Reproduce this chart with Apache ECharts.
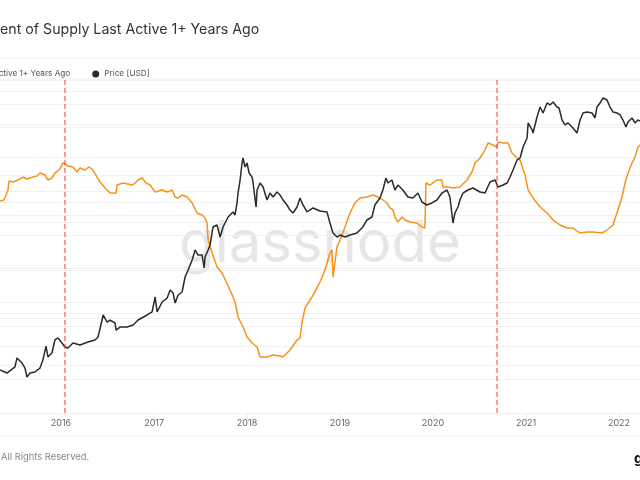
<!DOCTYPE html>
<html>
<head>
<meta charset="utf-8">
<script src="https://cdn.jsdelivr.net/npm/echarts@6/dist/echarts.min.js"></script>
<style>html,body{margin:0;padding:0;background:#fff;}#c{width:640px;height:480px;}</style>
</head>
<body>
<div id="c"></div>
<script>
// ---- data (x as decimal years) ----
const pctYears = [2015.344,2015.387,2015.409,2015.430,2015.441,2015.484,2015.538,2015.591,2015.634,2015.699,2015.742,2015.774,2015.828,2015.860,2015.903,2015.935,2015.989,2016.022,2016.043,2016.075,2016.129,2016.172,2016.204,2016.258,2016.301,2016.344,2016.387,2016.419,2016.473,2016.527,2016.591,2016.602,2016.667,2016.763,2016.796,2016.828,2016.871,2016.914,2016.957,2017.011,2017.086,2017.140,2017.194,2017.226,2017.258,2017.301,2017.355,2017.409,2017.462,2017.516,2017.548,2017.570,2017.581,2017.624,2017.677,2017.731,2017.817,2017.871,2017.903,2017.957,2018.000,2018.054,2018.108,2018.140,2018.215,2018.280,2018.355,2018.387,2018.462,2018.538,2018.570,2018.591,2018.624,2018.699,2018.753,2018.785,2018.839,2018.892,2018.914,2018.925,2018.946,2018.968,2019.000,2019.054,2019.108,2019.161,2019.215,2019.290,2019.355,2019.409,2019.462,2019.505,2019.538,2019.570,2019.591,2019.624,2019.667,2019.699,2019.753,2019.828,2019.882,2019.914,2019.925,2019.968,2020.043,2020.097,2020.108,2020.161,2020.215,2020.290,2020.366,2020.419,2020.452,2020.505,2020.559,2020.591,2020.645,2020.688,2020.699,2020.753,2020.806,2020.849,2020.903,2020.935,2020.989,2021.022,2021.075,2021.151,2021.226,2021.290,2021.366,2021.441,2021.505,2021.581,2021.656,2021.720,2021.817,2021.871,2021.935,2021.989,2022.032,2022.065,2022.097,2022.140,2022.172,2022.204,2022.226];
const pctValues = [57.28,57.39,57.91,58.44,59.38,59.28,59.49,59.80,59.59,59.80,59.91,60.22,60.02,59.49,59.70,60.22,60.65,61.28,61.38,60.96,60.86,60.33,60.75,60.54,60.86,60.54,59.80,59.28,58.65,58.12,58.12,58.96,59.17,58.96,59.17,59.49,59.70,59.17,58.96,58.23,58.44,58.23,58.44,57.70,57.60,57.91,57.70,57.07,56.02,55.81,55.50,54.97,53.18,51.82,50.34,49.71,47.93,46.67,45.09,44.04,42.99,42.36,41.94,40.89,40.89,41.10,40.99,40.89,41.62,42.67,42.88,44.46,46.04,47.19,48.14,48.77,50.03,51.82,52.13,49.29,50.87,52.45,53.18,54.55,56.02,57.07,57.60,57.70,57.91,57.70,57.39,57.07,56.55,56.34,55.60,55.07,55.60,55.28,55.07,54.97,54.55,54.44,59.17,58.96,59.49,59.49,58.75,58.75,58.65,58.75,59.49,60.33,61.28,61.80,62.64,63.38,63.17,62.96,63.48,63.38,63.38,62.33,61.80,61.59,60.02,58.44,57.60,56.65,56.02,55.28,54.76,54.44,54.44,53.92,54.02,54.02,53.92,54.23,54.76,56.34,57.70,59.17,60.22,61.28,61.91,62.96,63.17];
const priceYears = [2015.344,2015.419,2015.505,2015.527,2015.581,2015.613,2015.634,2015.667,2015.720,2015.774,2015.806,2015.839,2015.860,2015.903,2015.935,2015.968,2016.011,2016.043,2016.075,2016.129,2016.204,2016.290,2016.366,2016.398,2016.441,2016.452,2016.495,2016.527,2016.581,2016.591,2016.634,2016.710,2016.774,2016.828,2016.925,2016.978,2017.011,2017.032,2017.086,2017.140,2017.172,2017.204,2017.226,2017.258,2017.301,2017.333,2017.366,2017.409,2017.441,2017.473,2017.516,2017.538,2017.548,2017.581,2017.602,2017.634,2017.677,2017.710,2017.742,2017.796,2017.849,2017.871,2017.892,2017.903,2017.925,2017.946,2017.957,2017.978,2018.000,2018.022,2018.054,2018.065,2018.097,2018.108,2018.140,2018.172,2018.215,2018.247,2018.280,2018.323,2018.355,2018.387,2018.430,2018.462,2018.495,2018.538,2018.570,2018.602,2018.645,2018.710,2018.785,2018.860,2018.892,2018.925,2018.968,2019.000,2019.054,2019.108,2019.183,2019.247,2019.290,2019.344,2019.376,2019.430,2019.462,2019.495,2019.516,2019.559,2019.591,2019.624,2019.677,2019.731,2019.785,2019.839,2019.882,2019.935,2019.989,2020.043,2020.097,2020.151,2020.183,2020.215,2020.237,2020.269,2020.290,2020.323,2020.376,2020.430,2020.505,2020.559,2020.613,2020.667,2020.699,2020.753,2020.796,2020.828,2020.860,2020.903,2020.935,2020.968,2021.011,2021.022,2021.065,2021.075,2021.118,2021.151,2021.183,2021.226,2021.258,2021.290,2021.333,2021.355,2021.387,2021.419,2021.452,2021.505,2021.548,2021.581,2021.613,2021.656,2021.710,2021.742,2021.763,2021.796,2021.828,2021.871,2021.903,2021.935,2021.978,2022.011,2022.043,2022.075,2022.097,2022.140,2022.172,2022.204,2022.226];
const priceValues = [244,229,260,313,282,254,211,229,234,254,300,401,320,347,455,474,427,393,385,427,410,436,455,484,688,764,660,688,647,559,595,595,621,688,764,813,1109,813,1000,1087,1283,1205,979,1156,1231,1680,1942,2390,2940,2650,2650,2025,2543,2940,3263,4740,4940,3850,4740,5830,6470,6080,7800,9590,12560,17870,19830,16450,17870,14520,13370,11800,7170,10210,11800,10870,8300,9590,8830,9790,9200,8300,7480,6740,6340,7170,8650,7480,6470,7030,6600,6470,5150,4180,3850,4010,3850,4010,4180,4740,5480,5830,7480,8650,10210,13100,11800,12560,10210,11320,10210,8830,8650,9590,7960,7480,7800,8300,9590,10210,8830,5150,6340,7170,8300,9590,10210,10640,9790,9590,12050,12560,10870,11320,11800,13370,15460,19020,19830,24900,30000,41000,35460,33330,46400,57100,50440,62100,59600,63400,57100,55960,43600,39350,41000,36970,33330,43600,50440,51500,50440,45470,57100,62100,68860,66070,57100,51500,50440,48390,43600,37730,41860,45470,41000,43600,42740];
const eventYears = [2016.043, 2020.688];
const xRange = [2015.344, 2022.226];
const pctRange = [35, 70];
const priceRange = [100, 100000];
const priceGridValues = [200,400,600,800,1000,2000,4000,6000,8000,10000,20000,40000,60000,80000];
const seriesNames = ['Percent of Supply Last Active 1+ Years Ago', 'Price [USD]'];

function yearToTime(y){ const Y=Math.floor(y); const s=Date.UTC(Y,0,1), e=Date.UTC(Y+1,0,1); return s+(y-Y)*(e-s); }
const pctData = pctYears.map((y,i)=>[yearToTime(y), pctValues[i]]);
const priceData = priceYears.map((y,i)=>[yearToTime(y), priceValues[i]]);

const FONT = 'Inter, "Noto Sans", sans-serif';
const LEG_FS = 8.2;
const cv = document.createElement('canvas').getContext('2d');
cv.font = LEG_FS + 'px Inter';
const firstW = cv.measureText(seriesNames[0]).width;
const legendLeft = Math.round(70 - firstW - 5 - 7) - 5;

const GRID_COLOR = '#f1f1f1';
const RED = '#ea3f3a';
const chart = echarts.init(document.getElementById('c'), null, {renderer:'canvas'});
const YEAR = 365.25*24*3600*1000;

const eventSeries = eventYears.map((y,i)=>({
  name:'event'+i, type:'line', yAxisIndex:1, showSymbol:false, silent:true, z:5,
  data:[[yearToTime(y), priceRange[0]],[yearToTime(y), priceRange[1]]],
  lineStyle:{color:RED,width:1,type:[5,3]}, itemStyle:{color:RED}
}));

chart.setOption({
  animation:false,
  backgroundColor:'#fff',
  textStyle:{fontFamily:FONT},
  grid:{left:0,right:0,top:80,bottom:67,containLabel:false},
  legend:{
    left:legendLeft, top:65, icon:'circle', itemWidth:7, itemHeight:7, itemGap:22,
    textStyle:{fontSize:LEG_FS,color:'#555',fontFamily:FONT},
    data:seriesNames
  },
  xAxis:{
    type:'time', min:yearToTime(xRange[0]), max:yearToTime(xRange[1]),
    minInterval:YEAR*0.99, maxInterval:YEAR*1.01,
    axisLine:{show:true,lineStyle:{color:'#eeeeee'}},
    axisTick:{show:true,length:8,lineStyle:{color:'#eeeeee'}},
    splitLine:{show:false},
    axisLabel:{color:'#666',fontSize:9,margin:6,showMinLabel:false,showMaxLabel:false,
      formatter:function(v){return String(new Date(v).getUTCFullYear());}}
  },
  yAxis:[
    {type:'value',min:pctRange[0],max:pctRange[1],interval:5,position:'right',
     axisLabel:{show:false},axisLine:{show:false},axisTick:{show:false},
     splitLine:{lineStyle:{color:GRID_COLOR}}},
    {type:'log',logBase:10,min:priceRange[0],max:priceRange[1],position:'left',
     axisLabel:{show:false},axisLine:{show:false},axisTick:{show:false},
     splitLine:{show:false}}
  ],
  series:[
    {name:'priceGrid',type:'line',yAxisIndex:1,data:[],silent:true,z:0,
     markLine:{z:0,zlevel:0,silent:true,symbol:['none','none'],label:{show:false},
       lineStyle:{color:GRID_COLOR,type:'solid',width:1},
       data:priceGridValues.map(v=>({yAxis:v}))}},
    {name:seriesNames[0],type:'line',yAxisIndex:0,showSymbol:false,data:pctData,
     itemStyle:{color:'#f7931a'},lineStyle:{color:'#f7931a',width:1.5},z:3},
    {name:seriesNames[1],type:'line',yAxisIndex:1,showSymbol:false,data:priceData,
     itemStyle:{color:'#2a2a2a'},lineStyle:{color:'#2a2a2a',width:1.5},z:4}
  ].concat(eventSeries),
  graphic:[
    {type:'text',left:0,top:23,z:10,style:{text:'ent of Supply Last Active 1+ Years Ago',fontSize:14.2,fill:'#333',fontFamily:FONT}},
    {type:'line',shape:{x1:0,y1:58,x2:640,y2:58},style:{stroke:'#eeeeee',lineWidth:1}},
    {type:'line',shape:{x1:0,y1:79,x2:640,y2:79},style:{stroke:'#eeeeee',lineWidth:1}},
    {type:'line',shape:{x1:0,y1:436,x2:640,y2:436},style:{stroke:'#eeeeee',lineWidth:1}},
    {type:'text',x:320,y:245,z:0,style:{text:'glassnode',fontSize:58,fill:'#e6e6e6',fontFamily:FONT,textAlign:'center',textVerticalAlign:'middle'}},
    {type:'text',left:1,top:453,style:{text:'All Rights Reserved.',fontSize:9.4,fill:'#888',fontFamily:FONT}},
    {type:'text',x:634,y:452,style:{text:'g',fontSize:14,fontWeight:'bold',fill:'#111',fontFamily:FONT}}
  ]
});
</script>
</body>
</html>
